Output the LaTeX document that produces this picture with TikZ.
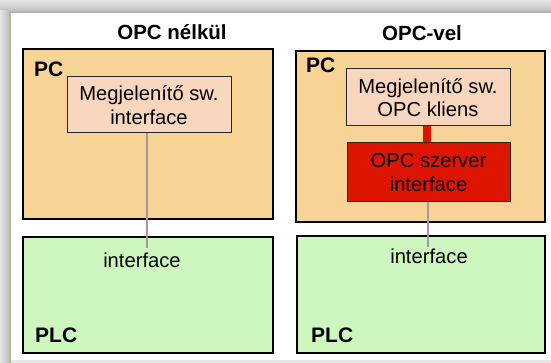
\documentclass[tikz,border=0pt]{standalone}
\usepackage{fontspec}
\setmainfont{Liberation Sans}
\definecolor{pcfill}{HTML}{F7D396}
\definecolor{swfill}{HTML}{F8D7BE}
\definecolor{srvfill}{HTML}{DD1500}
\definecolor{plcfill}{HTML}{CDF7BE}
\definecolor{conn}{HTML}{A8959F}
\definecolor{frameb}{HTML}{AEB8A2}
\definecolor{bgg}{HTML}{E6E6E6}
\tikzset{
  bigbox/.style={draw=black, line width=2.2pt},
  swbox/.style={draw=black!85, line width=1pt, fill=swfill},
  title/.style={font=\bfseries\fontsize{20.5}{22}\selectfont, inner sep=0pt},
  lbl/.style={font=\bfseries\fontsize{21}{23}\selectfont, inner sep=0pt},
  txt/.style={font=\fontsize{20.2}{23.5}\selectfont, inner sep=0pt, align=center},
  gconn/.style={draw=conn, line width=2.6pt},
}
\begin{document}
\begin{tikzpicture}[x=1pt,y=-1pt]
\useasboundingbox (0,0) rectangle (551,363);
% background frame
\fill[bgg] (0,0) rectangle (551,363);
\shade[top color=bgg, bottom color=black!25] (0,0) rectangle (551,11);
\shade[left color=bgg, right color=black!25] (0,11) rectangle (9,363);
\fill[white] (9,11) rectangle (553,360);
\draw[frameb, line width=1.5pt] (9.8,363) -- (9.8,11.8) -- (553,11.8);
% titles
\node[title] (t1) at (172,32) {OPC nélkül};
\node[title] (t2) at (422,33) {OPC-vel};
% left side
\draw[bigbox, fill=pcfill] (23,49) rectangle (273,219);
\node[lbl, anchor=north west] (pc1) at (34,62) {PC};
\node[swbox, txt, minimum width=164pt, minimum height=56pt] (sw1) at (149,105) {Megjelenítő sw.\\interface};
\draw[bigbox, fill=plcfill] (23,237) rectangle (273,353);
\node[txt] (if1) at (142,260) {interface};
\node[lbl, anchor=south west] (plc1) at (35,343) {PLC};
\draw[gconn] (sw1.south -| 147,0) -- (147,248);
% right side
\draw[bigbox, fill=pcfill] (296,51) rectangle (545,222);
\node[lbl, anchor=north west] (pc2) at (306,58) {PC};
\node[swbox, txt, minimum width=164pt, minimum height=57pt] (sw2) at (428,97.5) {Megjelenítő sw.\\OPC kliens};
\node[draw=black!85, line width=1pt, fill=srvfill, txt, minimum width=163pt, minimum height=59pt] (srv) at (428.5,172.5) {OPC szerver\\interface};
\draw[srvfill, line width=8pt] (sw2.south -| 427,0) -- (srv.north -| 427,0);
\draw[bigbox, fill=plcfill] (297,236) rectangle (545,353);
\node[txt] (if2) at (429,256) {interface};
\node[lbl, anchor=south west] (plc2) at (311,343) {PLC};
\draw[gconn] (srv.south -| 428,0) -- (428,247);
\end{tikzpicture}
\end{document}
